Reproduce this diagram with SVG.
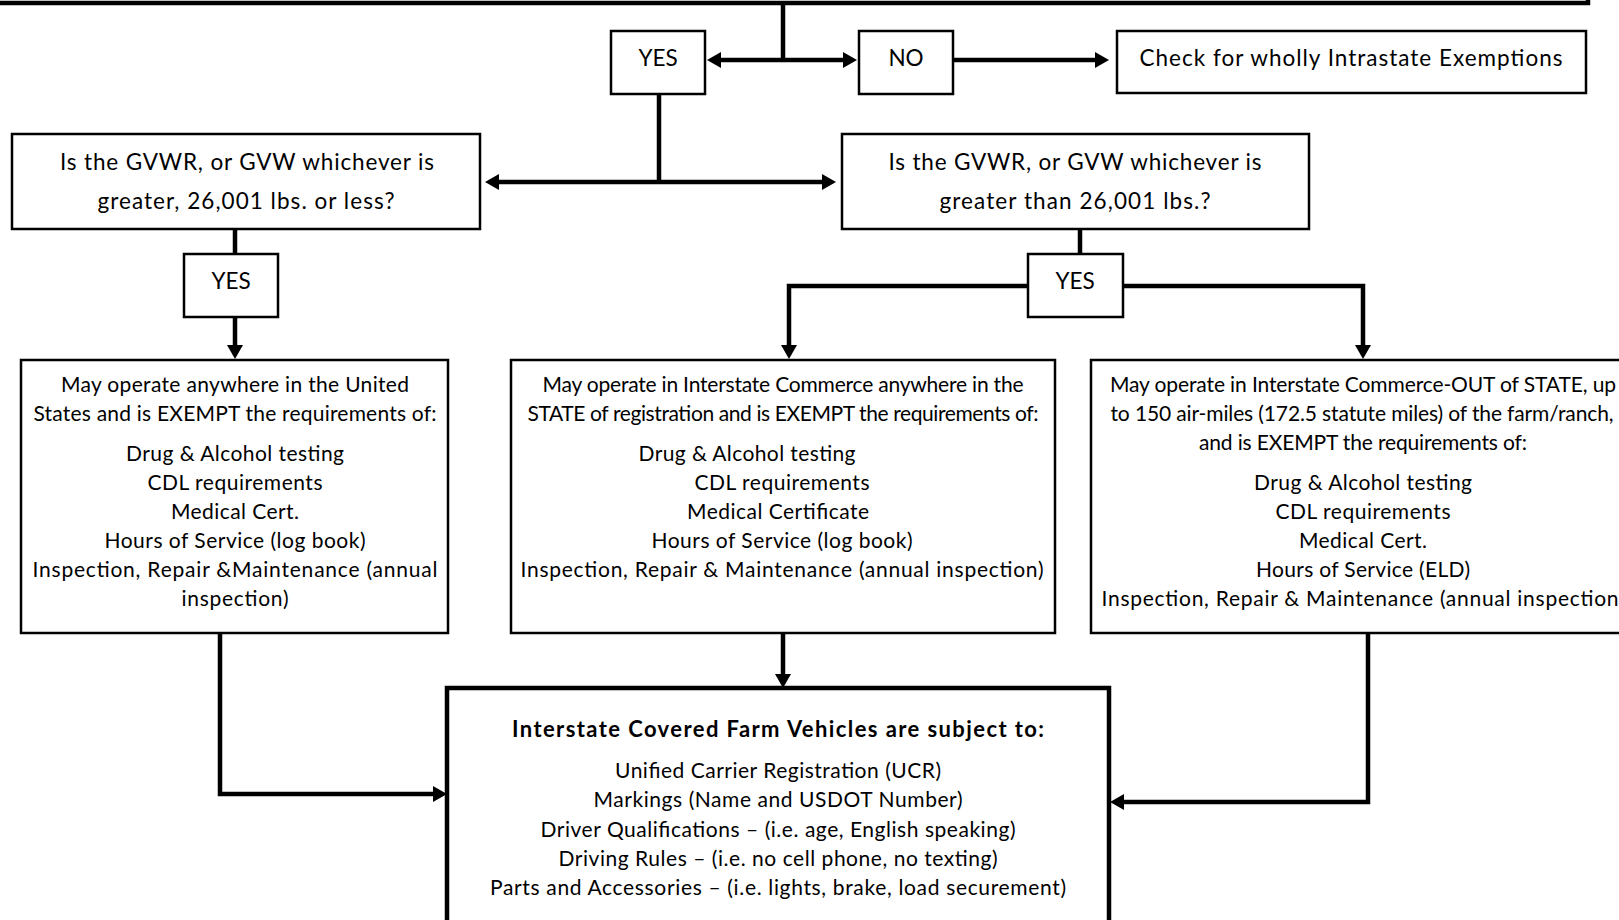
<svg xmlns="http://www.w3.org/2000/svg" width="1619" height="920" viewBox="0 0 1619 920">
<defs>
<marker id="ah" viewBox="0 0 14 16" refX="2" refY="8" markerWidth="14" markerHeight="16" markerUnits="userSpaceOnUse" orient="auto-start-reverse"><path d="M0,0 L14,8 L0,16 z" fill="#000"/></marker>
</defs>
<style>
.box{fill:#fff;stroke:#000;stroke-width:2.5}
.heavy{fill:#fff;stroke:#000;stroke-width:4.5}
.t{font-family:Lato,"Open Sans",sans-serif;font-size:21px;fill:#000;text-anchor:middle}
.tl{font-size:22.5px}
.b{font-weight:bold;font-size:22px}
.c{fill:none;stroke:#000;stroke-width:4.5;stroke-linejoin:miter}
</style>
<rect width="1619" height="920" fill="#fff"/>
<g id="connectors">
<path class="c" d="M783 3 V60"/>
<path class="c" d="M719 60 H845" marker-start="url(#ah)" marker-end="url(#ah)"/>
<path class="c" d="M953 60 H1097" marker-end="url(#ah)"/>
<path class="c" d="M659 94 V182"/>
<path class="c" d="M497 182 H824" marker-start="url(#ah)" marker-end="url(#ah)"/>
<path class="c" d="M235 229 V254"/>
<path class="c" d="M235 317 V347" marker-end="url(#ah)"/>
<path class="c" d="M1080 229 V254"/>
<path class="c" d="M1028 286 H789 V347" marker-end="url(#ah)"/>
<path class="c" d="M1123 286 H1363 V347" marker-end="url(#ah)"/>
<path class="c" d="M783 633 V676" marker-end="url(#ah)"/>
<path class="c" d="M220 633 V794 H435" marker-end="url(#ah)"/>
<path class="c" d="M1368 633 V802 H1122" marker-end="url(#ah)"/>
</g>
<g id="top-box"><rect class="heavy" x="-10" y="-60" width="1598" height="63"/></g>
<g id="yes-top"><rect class="box" x="611" y="31" width="94" height="63"/><text class="t tl" x="658" y="66">YES</text></g>
<g id="no-top"><rect class="box" x="859" y="31" width="94" height="63"/><text class="t tl" x="906" y="66">NO</text></g>
<g id="intrastate"><rect class="box" x="1117" y="31" width="469" height="62"/><text class="t tl" x="1351" y="66" textLength="423">Check for wholly Intrastate Exemptions</text></g>
<g id="gvwr-less"><rect class="box" x="12" y="134" width="468" height="95"/>
<text class="t tl" x="247" y="170" textLength="374">Is the GVWR, or GVW whichever is</text>
<text class="t tl" x="246" y="209" textLength="297">greater, 26,001 lbs. or less?</text></g>
<g id="gvwr-greater"><rect class="box" x="842" y="134" width="467" height="95"/>
<text class="t tl" x="1075" y="170" textLength="373">Is the GVWR, or GVW whichever is</text>
<text class="t tl" x="1075" y="209" textLength="271">greater than 26,001 lbs.?</text></g>
<g id="yes-left"><rect class="box" x="184" y="254" width="94" height="63"/><text class="t tl" x="231" y="289">YES</text></g>
<g id="yes-right"><rect class="box" x="1028" y="254" width="95" height="63"/><text class="t tl" x="1075" y="289">YES</text></g>
<g id="exempt-us"><rect class="box" x="21" y="360" width="427" height="273"/>
<text class="t" x="235" y="392" textLength="348">May operate anywhere in the United</text>
<text class="t" x="235" y="421" textLength="403">States and is EXEMPT the requirements of:</text>
<text class="t" x="235" y="461" textLength="218">Drug &amp; Alcohol testing</text>
<text class="t" x="235" y="490" textLength="175">CDL requirements</text>
<text class="t" x="235" y="519" textLength="128">Medical Cert.</text>
<text class="t" x="235" y="548" textLength="261">Hours of Service (log book)</text>
<text class="t" x="235" y="577" textLength="405">Inspection, Repair &amp;Maintenance (annual</text>
<text class="t" x="235" y="606" textLength="107">inspection)</text></g>
<g id="exempt-state"><rect class="box" x="511" y="360" width="544" height="273"/>
<text class="t" x="783" y="392" textLength="481">May operate in Interstate Commerce anywhere in the</text>
<text class="t" x="783" y="421" textLength="511">STATE of registration and is EXEMPT the requirements of:</text>
<text class="t" x="747" y="461" textLength="217">Drug &amp; Alcohol testing</text>
<text class="t" x="782" y="490" textLength="175">CDL requirements</text>
<text class="t" x="778" y="519" textLength="182">Medical Certificate</text>
<text class="t" x="782" y="548" textLength="261">Hours of Service (log book)</text>
<text class="t" x="782" y="577" textLength="523">Inspection, Repair &amp; Maintenance (annual inspection)</text></g>
<g id="exempt-out"><rect class="box" x="1091" y="360" width="560" height="273"/>
<text class="t" x="1363" y="392" textLength="506">May operate in Interstate Commerce-OUT of STATE, up</text>
<text class="t" x="1362" y="421" textLength="503">to 150 air-miles (172.5 statute miles) of the farm/ranch,</text>
<text class="t" x="1363" y="450" textLength="328">and is EXEMPT the requirements of:</text>
<text class="t" x="1363" y="490" textLength="218">Drug &amp; Alcohol testing</text>
<text class="t" x="1363" y="519" textLength="175">CDL requirements</text>
<text class="t" x="1363" y="548" textLength="128">Medical Cert.</text>
<text class="t" x="1363" y="577" textLength="214">Hours of Service (ELD)</text>
<text class="t" x="1363" y="606" textLength="523">Inspection, Repair &amp; Maintenance (annual inspection)</text></g>
<g id="covered"><rect class="heavy" x="447" y="688" width="662" height="300"/>
<text class="t b" x="778" y="737" textLength="532">Interstate Covered Farm Vehicles are subject to:</text>
<text class="t" x="778" y="778" textLength="326">Unified Carrier Registration (UCR)</text>
<text class="t" x="778" y="807" textLength="369">Markings (Name and USDOT Number)</text>
<text class="t" x="778" y="837" textLength="475">Driver Qualifications – (i.e. age, English speaking)</text>
<text class="t" x="778" y="866" textLength="439">Driving Rules – (i.e. no cell phone, no texting)</text>
<text class="t" x="778" y="895" textLength="576">Parts and Accessories – (i.e. lights, brake, load securement)</text></g>
</svg>
